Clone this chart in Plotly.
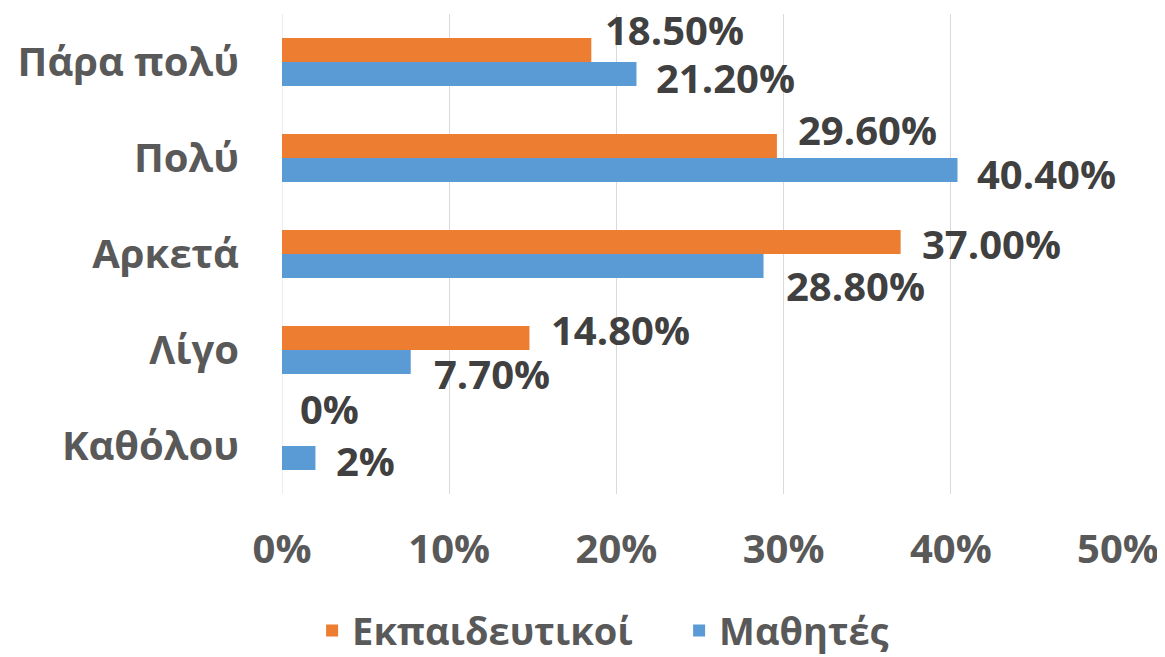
import plotly.graph_objects as go

categories = ["Πάρα πολύ", "Πολύ", "Αρκετά", "Λίγο", "Καθόλου"]
teachers = [18.5, 29.6, 37.0, 14.8, 0.0]
students = [21.2, 40.4, 28.8, 7.7, 2.0]
teacher_labels = ["18.50%", "29.60%", "37.00%", "14.80%", "0%"]
student_labels = ["21.20%", "40.40%", "28.80%", "7.70%", "2%"]
series_names = ["Εκπαιδευτικοί", "Μαθητές"]
x_ticks = [0, 10, 20, 30, 40, 50]
x_tick_text = ["0%", "10%", "20%", "30%", "40%", "50%"]

# label placement offsets (px) – style only
teacher_dy = [33, 29, 11, 21, 38]
student_dy = [-15, -15, -31, -23, -14]
teacher_dx = [12, 19, 19, 20, 16]
student_dx = [18, 18, 20, 21, 19]

ORANGE = "#ED7D31"
BLUE = "#5B9BD5"
FONT = "Open Sans"

fig = go.Figure()
fig.add_trace(go.Bar(y=categories, x=teachers, name=series_names[0], orientation="h",
                     marker=dict(color=ORANGE, line=dict(width=0))))
fig.add_trace(go.Bar(y=categories, x=students, name=series_names[1], orientation="h",
                     marker=dict(color=BLUE, line=dict(width=0))))

annotations = []
for cat, v, t, dy, dx in zip(categories, teachers, teacher_labels, teacher_dy, teacher_dx):
    annotations.append(dict(x=v, y=cat, xref="x", yref="y", text=t, showarrow=False,
                            xanchor="left", yanchor="middle", xshift=dx, yshift=dy,
                            font=dict(family=FONT, size=40, color="#404040", weight="bold")))
for cat, v, t, dy, dx in zip(categories, students, student_labels, student_dy, student_dx):
    annotations.append(dict(x=v, y=cat, xref="x", yref="y", text=t, showarrow=False,
                            xanchor="left", yanchor="middle", xshift=dx, yshift=dy,
                            font=dict(family=FONT, size=40, color="#404040", weight="bold")))

fig.update_layout(
    width=1165, height=657,
    margin=dict(l=274, r=55, t=6, b=171, autoexpand=False),
    paper_bgcolor="white", plot_bgcolor="white",
    barmode="group", bargap=0.5, bargroupgap=0,
    font=dict(family=FONT, color="#595959"),
    xaxis=dict(range=[0, 50], autorange=False, tickvals=x_ticks, ticktext=x_tick_text,
               showgrid=True, gridcolor="#D9D9D9", gridwidth=1,
               zeroline=False, showline=False, ticks="",
               tickfont=dict(family=FONT, size=40, color="#595959", weight="bold"),
               ticklabelstandoff=28, automargin=False, fixedrange=True),
    yaxis=dict(categoryorder="array", categoryarray=categories,
               range=[len(categories) - 0.5, -0.5], autorange=False,
               showgrid=False, zeroline=False, showline=False, ticks="",
               tickfont=dict(family=FONT, size=40, color="#595959", weight="bold"),
               ticklabelstandoff=42, automargin=False, fixedrange=True),
    legend=dict(orientation="h", x=0.475, xanchor="center", y=-0.285, yanchor="middle",
                font=dict(family=FONT, size=38, color="#595959", weight="bold"),
                itemsizing="constant", bgcolor="rgba(0,0,0,0)",
                entrywidth=322, entrywidthmode="pixels"),
    annotations=annotations,
    showlegend=True,
)
fig.add_shape(type="line", x0=0, x1=0, y0=0, y1=1, xref="x", yref="paper",
              line=dict(color="#D9D9D9", width=1), layer="below")

fig.write_html("out.html")
